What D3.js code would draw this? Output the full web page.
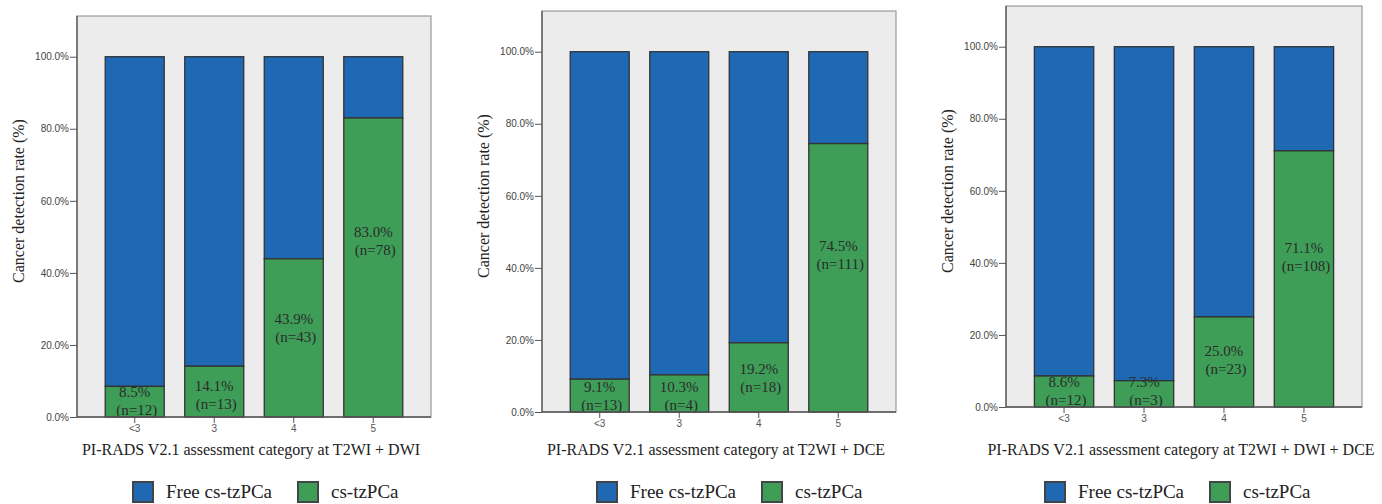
<!DOCTYPE html>
<html>
<head>
<meta charset="utf-8">
<script src="https://cdn.jsdelivr.net/npm/d3@7"></script>
<style>
  body { margin: 0; background: #fff; }
  svg { display: block; }
</style>
</head>
<body>
<div id="viz"></div>
<script>
const categories = ['<3', '3', '4', '5'];
const seriesNames = ['Free cs-tzPCa', 'cs-tzPCa'];
const yTicks = [0, 20, 40, 60, 80, 100];

// cs-tzPCa detection rate (%) and counts, per panel
const rateDWI = [8.5, 14.1, 43.9, 83.0];
const countDWI = [12, 13, 43, 78];
const rateDCE = [9.1, 10.3, 19.2, 74.5];
const countDCE = [13, 4, 18, 111];
const rateAll = [8.6, 7.3, 25.0, 71.1];
const countAll = [12, 3, 23, 108];

const xTitles = [
    'PI-RADS V2.1 assessment category at T2WI + DWI',
    'PI-RADS V2.1 assessment category at T2WI + DCE',
    'PI-RADS V2.1 assessment category at T2WI + DWI + DCE'
];

const width = 1382;
const height = 504;
const blue = '#1f69b4';
const green = '#3e9e58';
const serif = '"Liberation Serif", "Times New Roman", serif';
const sans = '"Liberation Sans", Arial, sans-serif';

const panels = [
    { left: 77, right: 431, top: 16, bottom: 417, legendX: 133, rates: rateDWI, counts: countDWI, title: xTitles[0] },
    { left: 542, right: 896, top: 11, bottom: 412, legendX: 597, rates: rateDCE, counts: countDCE, title: xTitles[1] },
    { left: 1006, right: 1362, top: 6, bottom: 407, legendX: 1045, rates: rateAll, counts: countAll, title: xTitles[2] }
];

let svg = d3.select('#viz')
            .append('svg')
            .attr('width', width)
            .attr('height', height);

panels.forEach(p => drawPanel(p));

function drawPanel(p) {
    let g = svg.append('g');

    let xScale = d3.scaleBand()
                   .domain(categories)
                   .range([p.left, p.right])
                   .paddingInner(0.258)
                   .paddingOuter(0.355);
    let yScale = d3.scaleLinear().domain([0, 111.3]).range([p.bottom, p.top]);

    // plot background
    g.append('rect')
     .attr('x', p.left)
     .attr('y', p.top)
     .attr('width', p.right - p.left)
     .attr('height', p.bottom - p.top)
     .attr('fill', '#ececec')
     .attr('stroke', '#9a9a9a')
     .attr('stroke-width', 1.2);

    // stacked bars: green = cs-tzPCa, blue = remainder
    const rows = categories.map((c, i) => ({ cat: c, rate: p.rates[i], n: p.counts[i] }));

    g.selectAll('rect.free')
     .data(rows)
     .enter()
     .append('rect')
     .attr('class', 'free')
     .attr('x', d => xScale(d.cat))
     .attr('width', xScale.bandwidth())
     .attr('y', yScale(100))
     .attr('height', d => yScale(d.rate) - yScale(100))
     .attr('fill', blue)
     .attr('stroke', '#333')
     .attr('stroke-width', 1.3);

    g.selectAll('rect.cs')
     .data(rows)
     .enter()
     .append('rect')
     .attr('class', 'cs')
     .attr('x', d => xScale(d.cat))
     .attr('width', xScale.bandwidth())
     .attr('y', d => yScale(d.rate))
     .attr('height', d => yScale(0) - yScale(d.rate))
     .attr('fill', green)
     .attr('stroke', '#333')
     .attr('stroke-width', 1.3);

    // labels inside green segments
    const labelY = d => Math.min(yScale(d.rate * 0.62), yScale(0) - 25);
    let labels = g.selectAll('text.lab')
                  .data(rows)
                  .enter()
                  .append('text')
                  .attr('class', 'lab')
                  .attr('text-anchor', 'middle')
                  .style('font-family', serif)
                  .style('font-size', '15px')
                  .attr('fill', '#2b2b2b');
    labels.append('tspan')
          .attr('x', d => xScale(d.cat) + xScale.bandwidth() / 2)
          .attr('y', d => labelY(d) + 5)
          .text(d => d.rate.toFixed(1) + '%');
    labels.append('tspan')
          .attr('x', d => xScale(d.cat) + xScale.bandwidth() / 2 + 2)
          .attr('y', d => labelY(d) + 23)
          .text(d => '(n=' + d.n + ')');

    // axes
    let yAxis = d3.axisLeft(yScale)
                  .tickValues(yTicks)
                  .tickSize(7)
                  .tickPadding(1)
                  .tickFormat(d => d.toFixed(1) + '%');
    let yg = g.append('g')
              .attr('transform', 'translate(' + p.left + ',0)')
              .call(yAxis);
    yg.select('.domain').remove();
    yg.selectAll('line').attr('stroke', '#555');
    yg.selectAll('text')
      .style('font-family', sans)
      .style('font-size', '10px')
      .attr('fill', '#444');

    let xAxis = d3.axisBottom(xScale).tickSize(6).tickPadding(2);
    let xg = g.append('g')
              .attr('transform', 'translate(0,' + p.bottom + ')')
              .call(xAxis);
    xg.select('.domain').remove();
    xg.selectAll('line').attr('stroke', '#555');
    xg.selectAll('text')
      .style('font-family', sans)
      .style('font-size', '10px')
      .attr('fill', '#555');

    // axis lines
    g.append('line')
     .attr('x1', p.left).attr('x2', p.left)
     .attr('y1', p.top).attr('y2', p.bottom)
     .attr('stroke', '#555').attr('stroke-width', 1.3);
    g.append('line')
     .attr('x1', p.left).attr('x2', p.right)
     .attr('y1', p.bottom).attr('y2', p.bottom)
     .attr('stroke', '#555').attr('stroke-width', 1.3);

    // titles
    g.append('text')
     .attr('transform', 'translate(' + (p.left - 59) + ',' + (p.bottom - 216) + ') rotate(-90)')
     .attr('text-anchor', 'middle')
     .attr('dominant-baseline', 'central')
     .style('font-family', serif)
     .style('font-size', '16px')
     .attr('fill', '#222')
     .text('Cancer detection rate (%)');

    g.append('text')
     .attr('x', (p.left + p.right) / 2 - 3)
     .attr('y', 455)
     .attr('text-anchor', 'middle')
     .style('font-family', serif)
     .style('font-size', '16px')
     .attr('fill', '#222')
     .text(p.title);

    // legend
    const legendOffsets = [0, 165];
    let leg = g.selectAll('g.leg')
               .data(seriesNames)
               .enter()
               .append('g')
               .attr('class', 'leg')
               .attr('transform', (d, i) => 'translate(' + (p.legendX + legendOffsets[i]) + ',482)');
    leg.append('rect')
       .attr('width', 20)
       .attr('height', 20)
       .attr('fill', (d, i) => i === 0 ? blue : green)
       .attr('stroke', '#444')
       .attr('stroke-width', 2);
    leg.append('text')
       .attr('x', 33)
       .attr('y', 16)
       .style('font-family', serif)
       .style('font-size', '19px')
       .attr('fill', '#222')
       .text(d => d);
}
</script>
</body>
</html>
